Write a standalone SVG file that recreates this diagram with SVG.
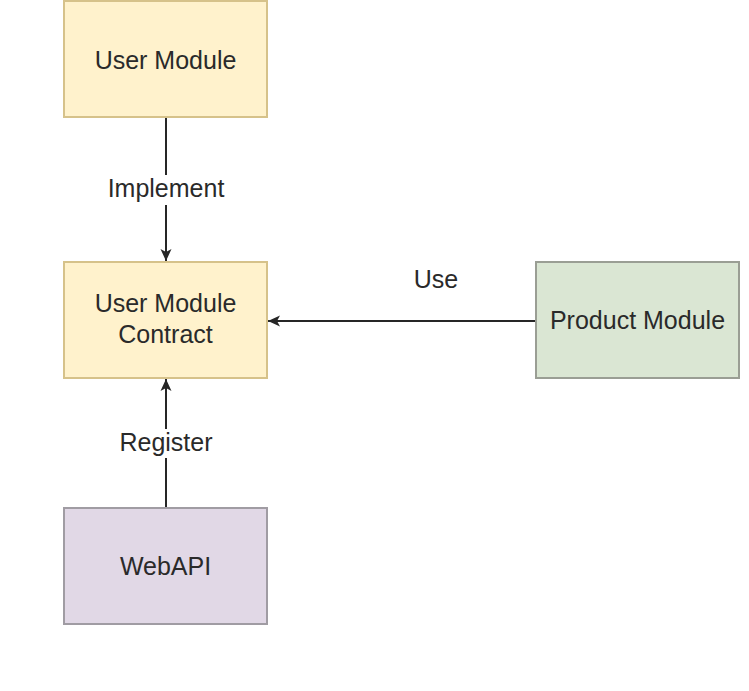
<svg xmlns="http://www.w3.org/2000/svg" width="749" height="691" viewBox="0 0 749 691">
<style>
.yellow{fill:#fff2cc;stroke:#d6c28a;stroke-width:2}
.green{fill:#dae6d3;stroke:#9a9e94;stroke-width:2}
.purple{fill:#e1d8e6;stroke:#a09ca3;stroke-width:2}
.t{font-family:"Liberation Sans",Arial,sans-serif;font-size:25px;fill:#2a2a2a;text-anchor:middle}
.edge{stroke:#262626;stroke-width:2;fill:none}
.lbl{fill:#ffffff}
</style>
<defs>
<marker id="arr" markerWidth="14" markerHeight="12" refX="12" refY="6" orient="auto" markerUnits="userSpaceOnUse">
<path d="M0,0.5 L12,6 L0,11.5 L3,6 Z" fill="#262626"/>
</marker>
</defs>
<rect width="749" height="691" fill="#ffffff"/>
<g id="connectors">
<g id="e-implement">
<path class="edge" d="M166,117 L166,261" marker-end="url(#arr)"/>
<rect class="lbl" x="104" y="175" width="124" height="30"/>
<text class="t" x="166" y="197">Implement</text>
</g>
<g id="e-use">
<path class="edge" d="M536,321 L268,321" marker-end="url(#arr)"/>
<text class="t" x="436" y="288">Use</text>
</g>
<g id="e-register">
<path class="edge" d="M166,508 L166,379" marker-end="url(#arr)"/>
<rect class="lbl" x="116" y="429" width="100" height="29"/>
<text class="t" x="166" y="451">Register</text>
</g>
</g>
<g id="user-module">
<rect class="yellow" x="64" y="1" width="203" height="116"/>
<text class="t" x="165.5" y="69">User Module</text>
</g>
<g id="user-module-contract">
<rect class="yellow" x="64" y="262" width="203" height="116"/>
<text class="t" x="165.5" y="312">User Module</text>
<text class="t" x="165.5" y="343">Contract</text>
</g>
<g id="product-module">
<rect class="green" x="536" y="262" width="203" height="116"/>
<text class="t" x="637.5" y="329">Product Module</text>
</g>
<g id="webapi">
<rect class="purple" x="64" y="508" width="203" height="116"/>
<text class="t" x="165.5" y="575">WebAPI</text>
</g>
</svg>
